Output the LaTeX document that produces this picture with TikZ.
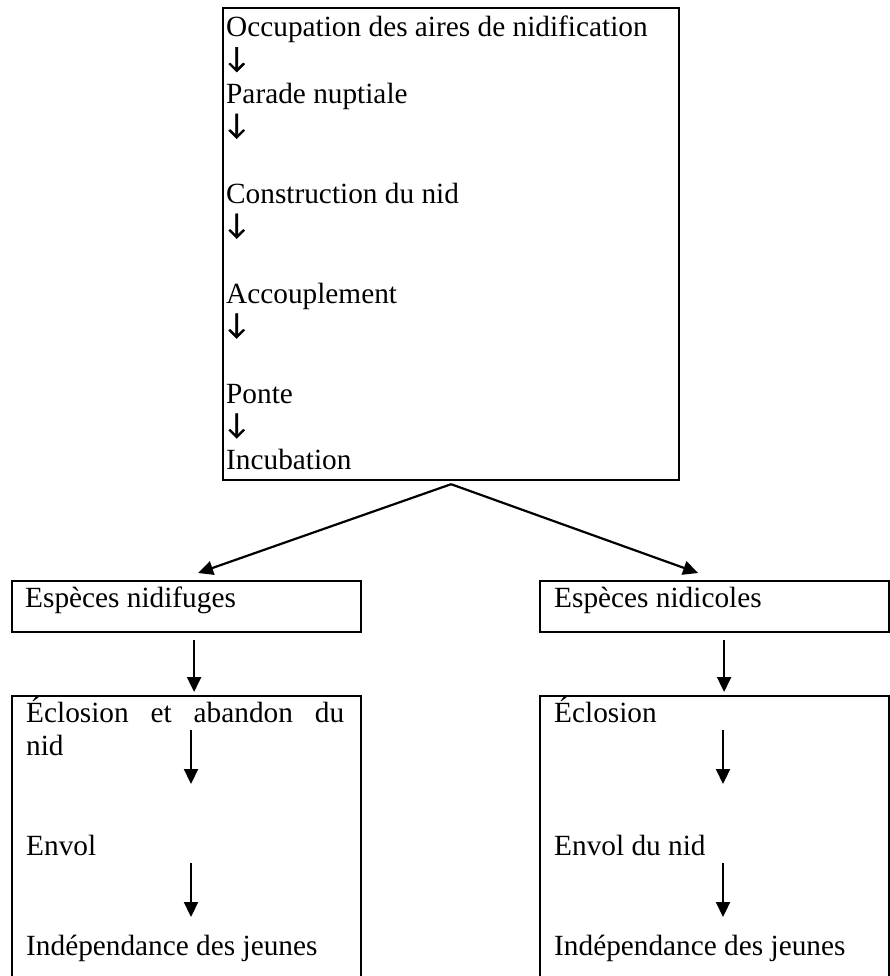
\documentclass[tikz,border=0pt]{standalone}
\usepackage{fontspec}
\setmainfont{Liberation Serif}
\newfontfamily\arrowfont[FakeBold=1.5]{Lato}
\usetikzlibrary{arrows.meta}
\newcommand{\dnarrow}{{\arrowfont\fontsize{28}{28}\selectfont ↓}}
\begin{document}
\begin{tikzpicture}[x=1pt,y=-1pt,
  box/.style={draw, line width=2.2pt, inner sep=0pt, anchor=north west},
  txt/.style={anchor=base west, inner sep=0pt, font=\fontsize{29.3}{33.3}\selectfont},
  arr/.style={line width=2.2pt, -{Triangle[length=15pt,width=14pt]}}]
\useasboundingbox (0,0) rectangle (889,976);
% boxes
\node[box, minimum width=456pt, minimum height=472pt] (top) at (222,7) {};
\node[box, minimum width=349pt, minimum height=51pt] (nidi) at (11,580) {};
\node[box, minimum width=349pt, minimum height=51pt] (nidc) at (539,580) {};
\node[box, minimum width=349pt, minimum height=290pt] (bl) at (11,695) {};
\node[box, minimum width=349pt, minimum height=290pt] (br) at (539,695) {};
% top box text
\node[txt] (t1) at (226,37) {Occupation des aires de nidification};
\node[txt] (a1) at (226,67.3) {\dnarrow};
\node[txt] (t2) at (226,103.6) {Parade nuptiale};
\node[txt] (a2) at (226,133.9) {\dnarrow};
\node[txt] (t3) at (226,203.5) {Construction du nid};
\node[txt] (a3) at (226,233.8) {\dnarrow};
\node[txt] (t4) at (226,303.4) {Accouplement};
\node[txt] (a4) at (226,333.7) {\dnarrow};
\node[txt] (t5) at (226,403.3) {Ponte};
\node[txt] (a5) at (226,433.6) {\dnarrow};
\node[txt] (t6) at (226,469.9) {Incubation};
% middle boxes text
\node[txt] (m1) at (25,607) {Espèces nidifuges};
\node[txt] (m2) at (554,607) {Espèces nidicoles};
% bottom left text
\node[txt] (l1) at (26,722) {\makebox[318pt][s]{Éclosion et abandon du}};
\node[txt] (l2) at (26,755) {nid};
\node[txt] (l3) at (26,855) {Envol};
\node[txt] (l4) at (26,955) {Indépendance des jeunes};
% bottom right text
\node[txt] (r1) at (554,722) {Éclosion};
\node[txt] (r3) at (554,855) {Envol du nid};
\node[txt] (r4) at (554,955) {Indépendance des jeunes};
% connectors
\coordinate (apex) at ([yshift=-3pt]top.south);
\draw[arr] (apex) -- ([xshift=11.5pt,yshift=7pt]nidi.north);
\draw[arr] (apex) -- ([xshift=-16.5pt,yshift=7pt]nidc.north);
\draw[arr] ([xshift=7.5pt,yshift=-7pt]nidi.south) -- ([xshift=7.5pt,yshift=3pt]bl.north);
\draw[arr] ([xshift=9.5pt,yshift=-7pt]nidc.south) -- ([xshift=9.5pt,yshift=3pt]br.north);
\coordinate (la1) at (191,730);
\coordinate (la2) at (191,784);
\coordinate (la3) at (191,863);
\coordinate (la4) at (191,917);
\coordinate (ra1) at (723,730);
\coordinate (ra2) at (723,784);
\coordinate (ra3) at (723,863);
\coordinate (ra4) at (723,917);
\draw[arr] (la1) -- (la2);
\draw[arr] (la3) -- (la4);
\draw[arr] (ra1) -- (ra2);
\draw[arr] (ra3) -- (ra4);
\end{tikzpicture}
\end{document}
